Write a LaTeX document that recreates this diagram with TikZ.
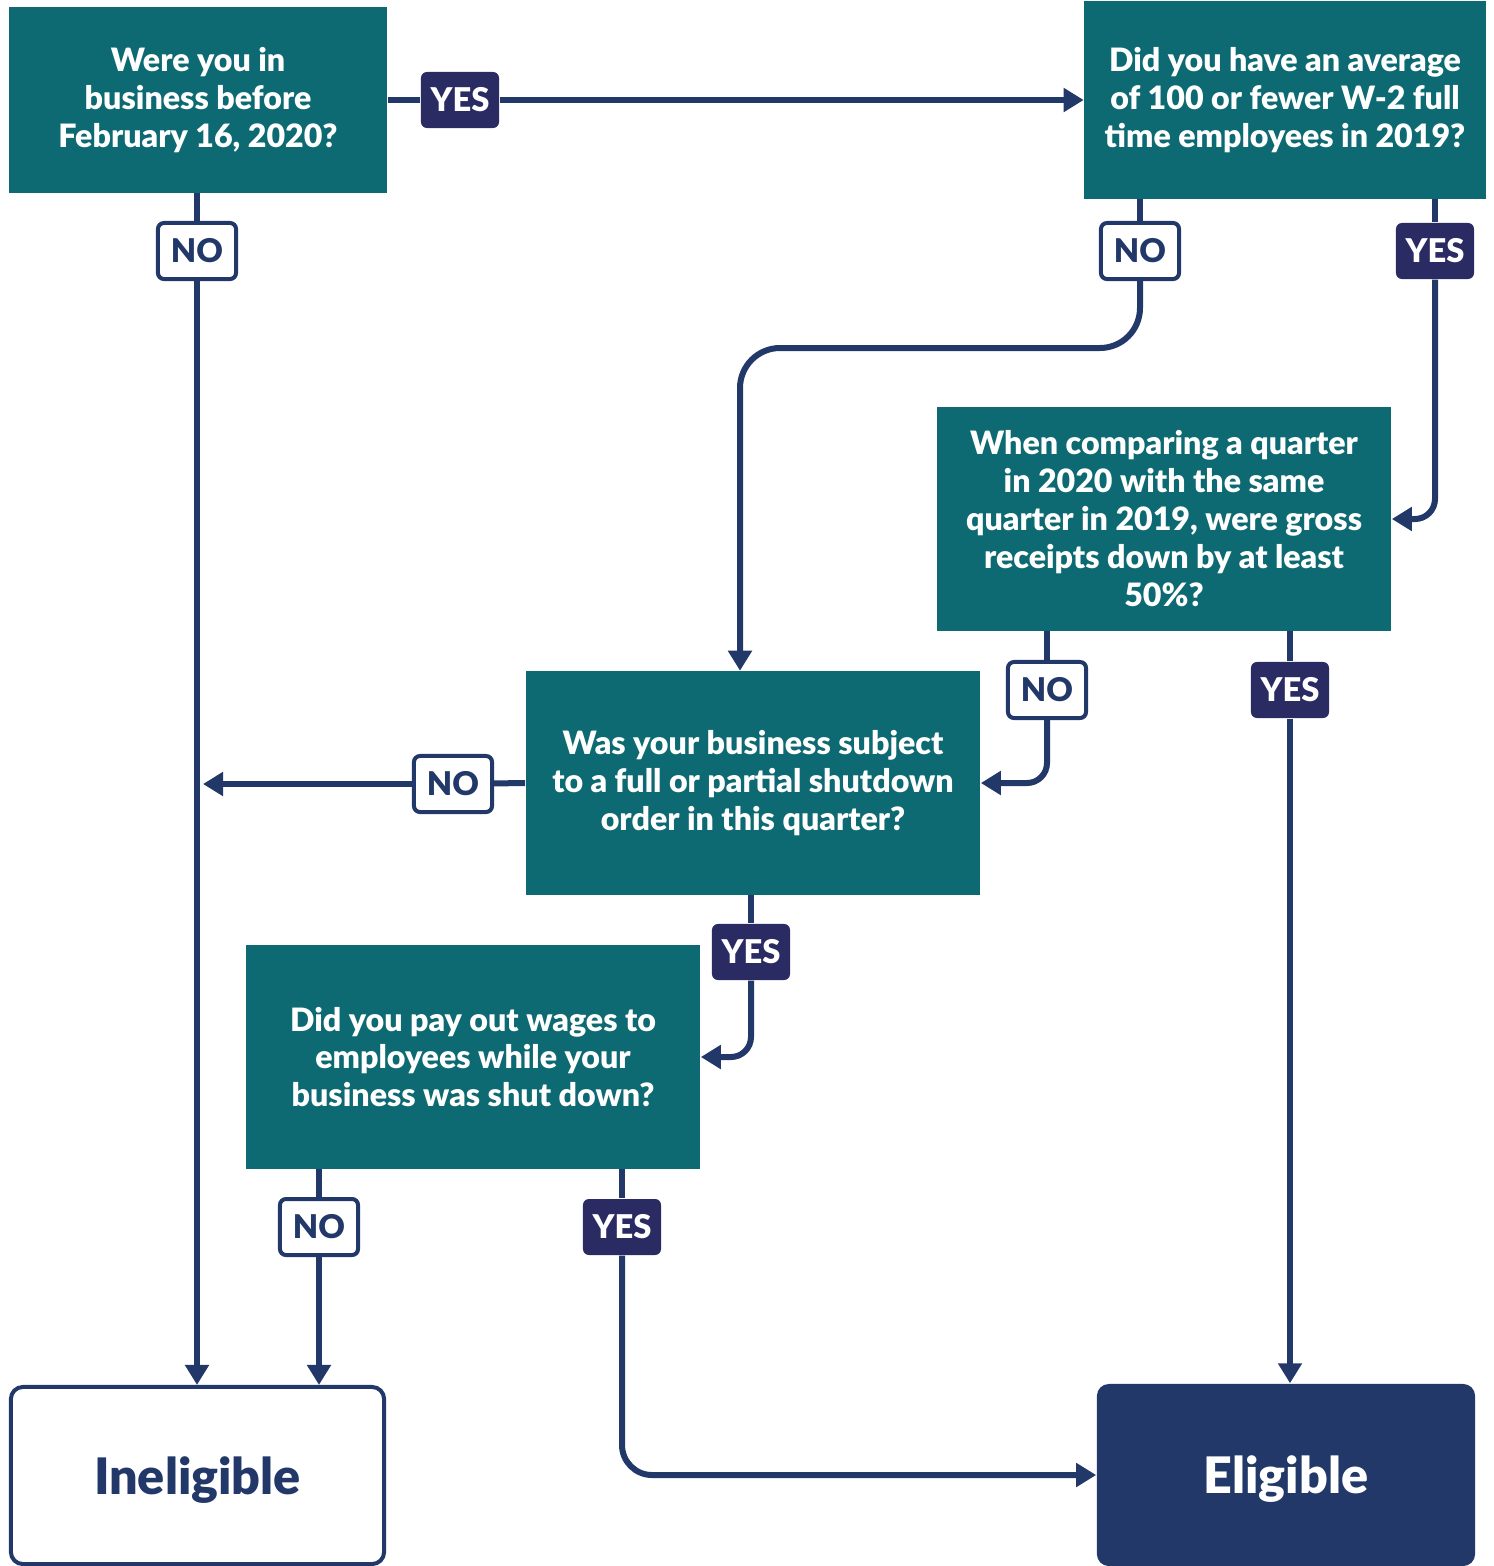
\documentclass[tikz,border=0pt]{standalone}
\usepackage{fontspec}
\setmainfont{Lato}[BoldFont={Lato Black}]
\usetikzlibrary{arrows.meta}
\definecolor{qteal}{RGB}{14,106,114}
\definecolor{linenavy}{RGB}{33,56,105}
\definecolor{tagnavy}{RGB}{43,43,99}
\tikzset{
  question/.style={fill=qteal, text=white, align=center, inner sep=0pt,
    font=\bfseries\fontsize{9.15pt}{10.8pt}\selectfont},
  result/.style={rounded corners=1.2mm, text depth=0pt, font=\bfseries\fontsize{14.3pt}{16pt}\selectfont},
  flow/.style={draw=linenavy, line width=0.6mm},
  arr/.style={-{Triangle[width=2.3mm,length=2mm]}},
  tagyes/.style={fill=tagnavy, text=white, rounded corners=0.6mm, inner sep=0pt,
    minimum width=7.8mm, minimum height=5.6mm, font=\bfseries\fontsize{9.3pt}{10pt}\selectfont},
  tagno/.style={fill=white, draw=linenavy, line width=0.4mm, text=linenavy, rounded corners=0.6mm,
    inner sep=0pt, minimum width=7.8mm, minimum height=5.6mm, font=\bfseries\fontsize{9.3pt}{10pt}\selectfont},
}
\begin{document}
\begin{tikzpicture}[x=0.01cm, y=-0.01cm]
        \useasboundingbox (0,0) rectangle (1493,1566);

        % Question boxes
        \node[question, minimum width=3.78cm, minimum height=1.85cm] (q1) at (198,100)
          {Were you in\\business before\\February 16, 2020?};
        \node[question, minimum width=4.01cm, minimum height=1.97cm] (q2) at (1285,100)
          {Did you have an average\\of 100 or fewer W-2 full\\time employees in 2019?};
        \node[question, minimum width=4.54cm, minimum height=2.23cm] (q3) at (1164,519)
          {When comparing a quarter\\in 2020 with the same\\quarter in 2019, were gross\\receipts down by at least\\50\%?};
        \node[question, minimum width=4.54cm, minimum height=2.23cm] (q4) at (753,783)
          {Was your business subject\\to a full or partial shutdown\\order in this quarter?};
        \node[question, minimum width=4.54cm, minimum height=2.23cm] (q5) at (473,1057)
          {Did you pay out wages to\\employees while your\\business was shut down?};

        % Result boxes
        \node[result, draw=linenavy, line width=0.4mm, minimum width=3.73cm,
          minimum height=1.77cm, text=linenavy] (inel) at (197.5,1475.5) {Ineligible};
        \node[result, fill=linenavy, minimum width=3.78cm, minimum height=1.82cm,
          text=white] (elig) at (1286,1475) {Eligible};

        % Answer tags
        \node[tagyes] (yes1) at (460,100) {YES};
        \node[tagno]  (no1)  at (197,251) {NO};
        \node[tagno]  (no2)  at (1140,251) {NO};
        \node[tagyes] (yes2) at (1435,251) {YES};
        \node[tagno]  (no3)  at (1047,690) {NO};
        \node[tagyes] (yes3) at (1290,690) {YES};
        \node[tagno]  (no4)  at (453,784) {NO};
        \node[tagyes] (yes4) at (751,952) {YES};
        \node[tagno]  (no5)  at (319,1227) {NO};
        \node[tagyes] (yes5) at (622,1227) {YES};

        % Bend point for the long NO path
        \coordinate (bend2) at (740,348);

        % Connectors
        \draw[flow] (q1.east) -- (yes1);
        \draw[flow, arr] (yes1) -- (q2.west);

        \draw[flow] (q1.south -| no1) -- (no1);
        \draw[flow, arr] (no1) -- (inel.north -| no1);

        \draw[flow] (q2.south -| no2) -- (no2);
        \draw[flow, arr, rounded corners=4mm] (no2) |- (bend2) -- (bend2 |- q4.north);

        \draw[flow] (q2.south -| yes2) -- (yes2);
        \draw[flow, arr, rounded corners=2mm] (yes2) |- (q3.east);

        \draw[flow] (q3.south -| no3) -- (no3);
        \draw[flow, arr, rounded corners=2mm] (no3) |- (q4.east);

        \draw[flow] (q3.south -| yes3) -- (yes3);
        \draw[flow, arr] (yes3) -- (elig.north -| yes3);

        \draw[flow] (q4.west) -- (no4);
        \draw[flow, arr] (no4) -- ([xshift=0.06cm]no4 -| no1);

        \draw[flow] (q4.south -| yes4) -- (yes4);
        \draw[flow, arr, rounded corners=2mm] (yes4) |- (q5.east);

        \draw[flow] (q5.south -| no5) -- (no5);
        \draw[flow, arr] (no5) -- (inel.north -| no5);

        \draw[flow] (q5.south -| yes5) -- (yes5);
        \draw[flow, arr, rounded corners=3mm] (yes5) |- (elig.west);
\end{tikzpicture}
\end{document}
